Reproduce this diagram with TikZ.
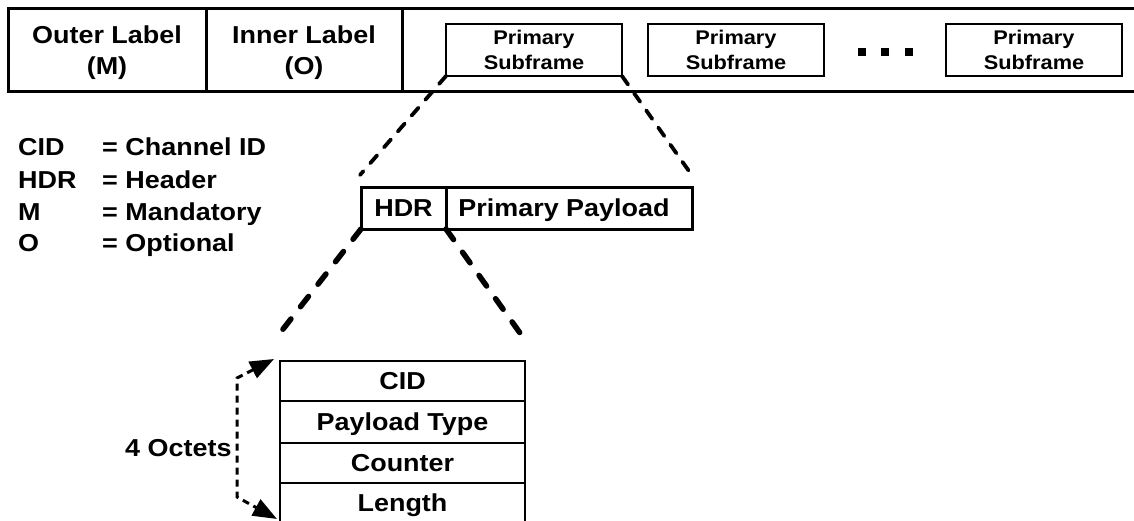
\documentclass[tikz,border=0pt]{standalone}
\usepackage{fontspec}
\setmainfont[FakeStretch=1.1]{Liberation Sans}
\usetikzlibrary{arrows.meta,calc}
\begin{document}
\begin{tikzpicture}[x=1pt,y=-1pt,
  lbl/.style={font=\fontsize{24.5}{31}\selectfont\bfseries},
  subtxt/.style={font=\fontsize{19.8}{25}\selectfont\bfseries},
  cell/.style={draw,line width=3pt,inner sep=0pt,outer sep=0pt,anchor=north west,minimum height=83pt},
  subbox/.style={draw,line width=2pt,inner sep=0pt,outer sep=0pt,anchor=north west,minimum width=176pt,minimum height=52pt,align=center,subtxt},
  dotsq/.style={fill,inner sep=0pt,minimum size=8.5pt},
  hdrbox/.style={draw,line width=3pt,inner sep=0pt,outer sep=0pt,anchor=north west,minimum height=42pt,text height=17.5pt,text depth=0pt,lbl},
  rowbox/.style={draw,line width=2pt,inner sep=0pt,outer sep=0pt,anchor=north west,minimum width=245pt,text height=17.5pt,text depth=0pt,lbl},
  legtxt/.style={anchor=base west,inner sep=0pt,lbl},
  zoomup/.style={line width=3.8pt,line cap=round,dash pattern=on 10.5pt off 10.5pt},
  zoomdown/.style={line width=5.5pt,line cap=round,dash pattern=on 13pt off 15.5pt},
  octarrow/.style={line width=3pt,dash pattern=on 7pt off 5pt,{Triangle[length=24pt,width=18pt]}-{Triangle[length=24pt,width=18pt]}}
]
\useasboundingbox (0,0) rectangle (1134,520);

% top frame
\node[cell,minimum width=198pt] (outer) at (8,8) {};
\node[cell,minimum width=196pt] (inner) at (206,8) {};
\node[cell,minimum width=743pt] (rest) at (402,8) {};
\node[lbl,align=center] (outertxt) at ($(outer.center)+(0,3.5)$) {Outer Label\\(M)};
\node[lbl,align=center] (innertxt) at ($(inner.center)+(0,3.5)$) {Inner Label\\(O)};

% subframes
\node[subbox] (sf1) at (446,24) {Primary\\Subframe};
\node[subbox] (sf2) at (648,24) {Primary\\Subframe};
\node[subbox] (sf3) at (946,24) {Primary\\Subframe};
\node[dotsq] (d1) at (862,52) {};
\node[dotsq] (d2) at (885,52) {};
\node[dotsq] (d3) at (909,52) {};

% legend
\node[legtxt] (k1) at (18,155.5) {CID};
\node[legtxt] (v1) at (102,155.5) {= Channel ID};
\node[legtxt] (k2) at (18,188.5) {HDR};
\node[legtxt] (v2) at (102,188.5) {= Header};
\node[legtxt] (k3) at (18,220.5) {M};
\node[legtxt] (v3) at (102,220.5) {= Mandatory};
\node[legtxt] (k4) at (18,251.5) {O};
\node[legtxt] (v4) at (102,251.5) {= Optional};

% HDR + payload
\node[hdrbox,minimum width=85pt] (hdr) at (361,187) {HDR};
\node[hdrbox,minimum width=246pt] (pay) at (446,187) {\hspace{-10pt}Primary Payload};
\coordinate (a1) at (360,175);
\coordinate (a2) at (691,174);
\draw[zoomup] (sf1.south west) -- (a1);
\draw[zoomup] (sf1.south east) -- (a2);

% table
\node[rowbox,minimum height=40pt] (r1) at (280,361) {CID};
\node[rowbox,minimum height=42pt] (r2) at (280,401) {Payload Type};
\node[rowbox,minimum height=40pt] (r3) at (280,443) {Counter};
\node[rowbox,minimum height=40pt] (r4) at (280,483) {Length};
\coordinate (b1) at (280,333);
\coordinate (b2) at (520,333);
\draw[zoomdown] (hdr.south west) -- (b1);
\draw[zoomdown] (hdr.south east) -- (b2);

% 4 octets
\node[legtxt] (oct) at (125,456.5) {4 Octets};
\coordinate (t1) at (274,359);
\coordinate (c1) at (237,378);
\coordinate (c2) at (237,497);
\coordinate (t2) at (277,519);
\draw[octarrow] (t1) -- (c1) -- (c2) -- (t2);
\end{tikzpicture}
\end{document}
